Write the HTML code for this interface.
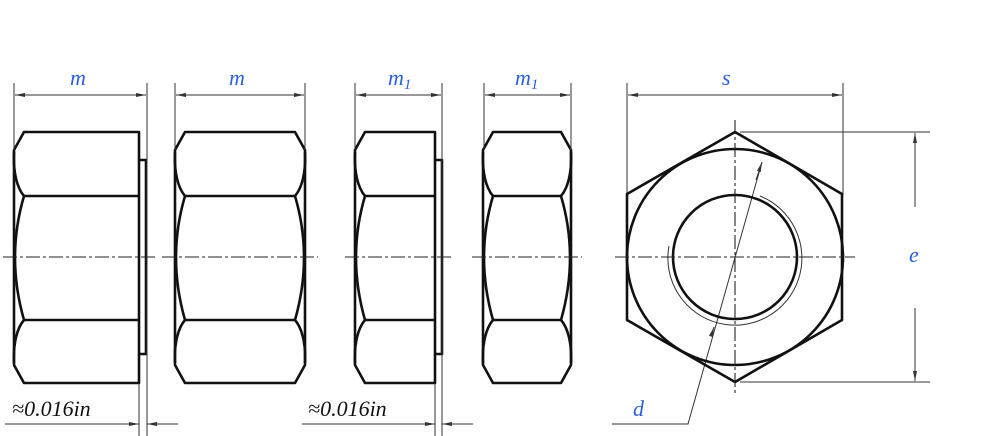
<!DOCTYPE html>
<html><head><meta charset="utf-8"><style>
html,body{margin:0;padding:0;background:#fff;}
svg{display:block}
.t{font-family:"Liberation Serif",serif;font-style:italic;fill:#2a5fe0;font-size:22px}
.k{font-family:"Liberation Serif",serif;font-style:italic;fill:#111;font-size:22px}
.n{fill:none;stroke:#111;stroke-width:2.6;stroke-linejoin:round}
.th{fill:none;stroke:#333;stroke-width:1}
.c{fill:none;stroke:#222;stroke-width:1.1;stroke-dasharray:14 3 3 3}
</style></head><body>
<svg width="1000" height="436" viewBox="0 0 1000 436">
<defs>
<marker id="a" viewBox="0 0 10 6" refX="10" refY="3" markerWidth="10" markerHeight="6" orient="auto-start-reverse" markerUnits="userSpaceOnUse"><path d="M0,1 L10,3 L0,5 z" fill="#333"/></marker>
</defs>

<!-- Nut 1 -->
<g class="n">
<path d="M24,132 L139,132 L139,383 L24,383 L14,365 L14,150 Z"/>
<path d="M24,196 L139,196 M24,320 L139,320"/>
<path d="M14,152 C13,172 17,188 24,196 Q6,257 24,320 C17,328 13,344 14,363"/>
<path d="M139,160 L146,160 L146,354 L139,354"/>
</g>
<!-- Nut 2 -->
<g class="n">
<path d="M185,132 L295,132 L305,150 L305,365 L295,383 L185,383 L175,365 L175,150 Z"/>
<path d="M185,196 L295,196 M185,320 L295,320"/>
<path d="M175,152 C174,172 178,188 185,196 Q167,257 185,320 C178,328 174,344 175,363"/>
<path d="M305,152 C306,172 302,188 295,196 Q313,257 295,320 C302,328 306,344 305,363"/>
</g>
<!-- Nut 3 -->
<g class="n">
<path d="M365,132 L435,132 L435,383 L365,383 L355,365 L355,150 Z"/>
<path d="M365,196 L435,196 M365,320 L435,320"/>
<path d="M355,152 C354,172 358,188 365,196 Q347,257 365,320 C358,328 354,344 355,363"/>
<path d="M435,160 L442,160 L442,354 L435,354"/>
</g>
<!-- Nut 4 -->
<g class="n">
<path d="M493,132 L561,132 L571,150 L571,365 L561,383 L493,383 L483,365 L483,150 Z"/>
<path d="M493,196 L561,196 M493,320 L561,320"/>
<path d="M483,152 C482,172 486,188 493,196 Q475,257 493,320 C486,328 482,344 483,363"/>
<path d="M571,152 C572,172 568,188 561,196 Q579,257 561,320 C568,328 572,344 571,363"/>
</g>

<path class="c" d="M3,257 L158,257 M162,257 L318,257 M345,257 L453,257 M472,257 L582,257"/>

<g stroke="#333" stroke-width="1">
<path d="M14,83 L14,150 M147,83 L147,436 M139,383 L139,436"/>
<path d="M175,83 L175,150 M305,83 L305,150"/>
<path d="M355,83 L355,150 M442,83 L442,436 M435,383 L435,436"/>
<path d="M484,83 L484,150 M571,83 L571,150"/>
<path d="M627,83 L627,195 M843,83 L843,195"/>
<path d="M740,132 L930,132 M740,382 L930,382"/>
</g>
<g stroke="#333" stroke-width="1" fill="none">
<path d="M15,95 L146,95" marker-start="url(#a)" marker-end="url(#a)"/>
<path d="M176,95 L304,95" marker-start="url(#a)" marker-end="url(#a)"/>
<path d="M356,95 L441,95" marker-start="url(#a)" marker-end="url(#a)"/>
<path d="M485,95 L570,95" marker-start="url(#a)" marker-end="url(#a)"/>
<path d="M628,95 L842,95" marker-start="url(#a)" marker-end="url(#a)"/>
<path d="M5,424 L139,424" marker-end="url(#a)"/>
<path d="M178,424 L147,424" marker-end="url(#a)"/>
<path d="M302,424 L435,424" marker-end="url(#a)"/>
<path d="M473,424 L442,424" marker-end="url(#a)"/>
<path d="M915,207 L915,133" marker-end="url(#a)"/>
<path d="M915,308 L915,381" marker-end="url(#a)"/>
<path d="M762,162 L688,424 L612,424"/>
</g>
<path d="M756,180 L762,162" stroke="#333" marker-end="url(#a)"/>
<path d="M713,330 L714,327" stroke="#333" marker-end="url(#a)"/>

<g class="n">
<path d="M735,132 L842,194 L842,320 L735,382 L627,320 L627,194 Z"/>
<circle cx="735" cy="257" r="108"/>
<circle cx="735" cy="257" r="62"/>
</g>
<path class="th" d="M760,196 A67,67 0 1 1 669,246"/>
<path class="c" d="M615,257 L855,257 M735,120 L735,396"/>

<text class="t" x="70" y="85">m</text>
<text class="t" x="229" y="85">m</text>
<text class="t" x="388" y="85">m<tspan font-size="15" dy="4">1</tspan></text>
<text class="t" x="515" y="85">m<tspan font-size="15" dy="4">1</tspan></text>
<text class="t" x="722" y="85">s</text>
<text class="t" x="909" y="262">e</text>
<text class="t" x="633" y="416">d</text>
<text class="k" x="12" y="416">≈0.016in</text>
<text class="k" x="308" y="416">≈0.016in</text>
</svg>
</body></html>
